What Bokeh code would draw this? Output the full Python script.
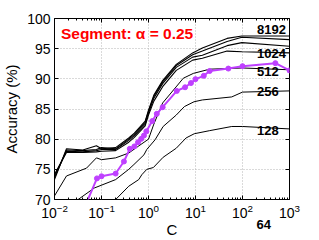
from bokeh.plotting import figure
from bokeh.models import Label, FixedTicker, LinearAxis, Title
from bokeh.embed import file_html
from bokeh.resources import INLINE

# ---- data ----
C_top = [0.01, 0.018, 0.04, 0.078, 0.1, 0.2, 0.38, 0.5, 0.85, 1.0, 1.3, 2.0, 3.9, 8.7, 14, 47, 97, 1000]
acc_8192 = [73.3, 78.4, 78.2, 78.9, 78.4, 78.6, 80.2, 81.0, 83.0, 84.8, 87.3, 89.7, 92.4, 94.3, 95.1, 96.7, 97.1, 97.1]
acc_4096 = [73.6, 78.2, 78.1, 78.3, 78.6, 78.4, 80.0, 80.8, 82.8, 84.6, 87.1, 89.5, 92.2, 94.0, 94.6, 96.2, 96.9, 96.5]
acc_2048 = [73.9, 78.0, 77.9, 78.1, 78.3, 78.3, 79.8, 80.6, 82.5, 84.3, 86.8, 89.2, 91.9, 93.6, 93.9, 95.5, 96.0, 95.4]
acc_1024 = [74.2, 77.8, 77.8, 77.9, 78.0, 78.1, 79.5, 80.3, 82.2, 84.0, 86.3, 88.7, 91.4, 93.1, 93.4, 94.6, 94.5, 94.3]

C_512 = [0.01, 0.018, 0.048, 0.078, 0.1, 0.2, 0.38, 0.6, 1.0, 1.3, 2.0, 4.0, 5.5, 9.0, 20, 100, 1000]
acc_512 = [70.6, 73.9, 75.2, 76.9, 76.6, 76.9, 77.7, 78.8, 80.0, 82.5, 86.0, 88.8, 90.1, 90.9, 91.6, 91.8, 91.5]

C_256 = [0.01, 0.07, 0.2, 0.38, 0.49, 0.8, 0.92, 1.38, 2.05, 3.9, 5.8, 9.3, 14, 59, 100, 1000]
acc_256 = [67.2, 71.9, 73.3, 75.0, 75.8, 77.4, 78.3, 79.9, 82.1, 84.0, 85.4, 86.2, 86.5, 87.0, 87.8, 88.0]

C_128 = [0.1, 0.2, 0.38, 0.62, 0.72, 0.92, 1.27, 2.05, 3.9, 6.3, 9.4, 19.6, 59, 100, 1000]
acc_128 = [67.5, 70.0, 72.2, 73.3, 74.1, 75.0, 75.3, 77.0, 78.5, 80.2, 80.9, 81.4, 82.1, 82.1, 81.7]

C_seg = [0.04, 0.08, 0.1, 0.2, 0.3, 0.4, 0.5, 0.6, 0.7, 0.8, 0.9, 1.2, 1.5, 2, 4, 6, 8, 10, 15, 20, 50, 100, 500, 1000]
acc_seg = [68.0, 73.5, 73.85, 74.3, 76.3, 78.4, 78.8, 79.5, 80.05, 80.6, 81.3, 83.0, 84.2, 85.3, 88.0, 88.6, 89.3, 89.95,
           90.5, 91.3, 91.7, 92.1, 92.6, 91.4]

series_labels = ["8192", "1024", "512", "256", "128"]
off_axis_label = "64"
x_ticks = [0.01, 0.1, 1, 10, 100, 1000]
y_ticks = [70, 75, 80, 85, 90, 95, 100]

FONT = "Liberation Sans"

p = figure(width=319, height=240, x_axis_type="log", x_range=(0.01, 1000), y_range=(70, 100),
           output_backend="svg", toolbar_location=None,
           min_border_left=49, min_border_right=30, min_border_top=18, min_border_bottom=40)
p.background_fill_color = "white"
p.border_fill_color = "white"
p.outline_line_color = "black"
p.outline_line_width = 1

minor = [m * d for d in [0.01, 0.1, 1, 10, 100] for m in range(2, 10)]
xt = FixedTicker(ticks=x_ticks, minor_ticks=minor)
yt = FixedTicker(ticks=y_ticks)

p.xaxis.ticker = xt
p.yaxis.ticker = yt
for ax in (p.xaxis[0], p.yaxis[0]):
    ax.major_tick_in = 4
    ax.major_tick_out = 0
    ax.minor_tick_in = 2
    ax.minor_tick_out = 0
    ax.axis_line_color = None
    ax.major_tick_line_color = "black"
    ax.minor_tick_line_color = "black"
    ax.major_label_text_font = FONT
    ax.major_label_text_font_size = "14px"
    ax.major_label_text_color = "black"
    ax.axis_label_text_font = FONT
    ax.axis_label_text_font_size = "15px"
    ax.axis_label_text_font_style = "normal"
    ax.axis_label_text_color = "black"
p.xaxis.major_label_standoff = 4
p.yaxis.major_label_standoff = 4
p.yaxis.minor_tick_line_color = None
p.xaxis.axis_label = "C"
p.xaxis.axis_label_standoff = 0
p.yaxis.axis_label = "Accuracy (%)"
p.yaxis.axis_label_standoff = 4

top = LinearAxis(ticker=xt, major_tick_in=4, major_tick_out=0, minor_tick_in=2, minor_tick_out=0,
                 axis_line_color=None, major_label_text_font_size="1px", major_label_text_alpha=0,
                 major_label_standoff=0)
right = LinearAxis(ticker=yt, major_tick_in=4, major_tick_out=0, minor_tick_line_color=None,
                   axis_line_color=None, major_label_text_font_size="1px", major_label_text_alpha=0,
                   major_label_standoff=0)
p.add_layout(top, "above")
p.add_layout(right, "right")

p.xgrid.ticker = xt
p.ygrid.ticker = yt
for g in (p.xgrid[0], p.ygrid[0]):
    g.grid_line_color = "#b4b4b4"
    g.grid_line_dash = "1 2"
    g.grid_line_width = 1

for acc in (acc_1024, acc_2048, acc_4096, acc_8192):
    p.line(C_top, acc, line_color="black", line_width=1.1)
p.line(C_512, acc_512, line_color="black", line_width=1)
p.line(C_256, acc_256, line_color="black", line_width=1)
p.line(C_128, acc_128, line_color="black", line_width=1)

purple = "#bf40ff"
p.line(C_seg, acc_seg, line_color=purple, line_width=2)
p.scatter(C_seg, acc_seg, marker="circle", size=5, fill_color=purple, line_color=purple)

# series labels inside the frame
label_pos = [(204, 98.2), (204, 94.15), (204, 91.2), (204, 87.9), (204, 81.5)]
for txt, (lx, ly) in zip(series_labels, label_pos):
    p.add_layout(Label(x=lx, y=ly, text=txt, text_font=FONT, text_font_size="13px",
                       text_font_style="bold", text_color="black",
                       text_align="left", text_baseline="middle"))

# the "64" label sits below the axes
t64 = Title(text=off_axis_label, align="left", vertical_align="top", offset=202, standoff=-41,
            text_font=FONT, text_font_size="13px", text_font_style="bold", text_color="black")
p.add_layout(t64, "below")

p.add_layout(Label(x=0.0137, y=97.45, text="Segment: \u03b1 = 0.25", text_font=FONT,
                   text_font_size="15.5px", text_font_style="bold", text_color="#ff0000",
                   text_align="left", text_baseline="middle"))

open("out.html", "w").write(file_html(p, INLINE))
